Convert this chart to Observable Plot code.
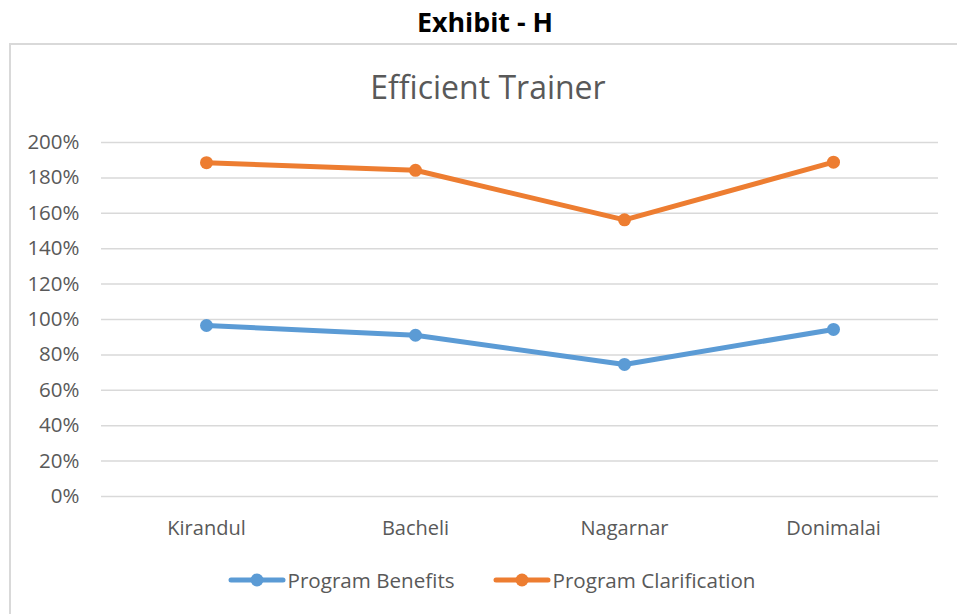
<!DOCTYPE html>
<html>
<head>
<meta charset="utf-8">
<script src="https://cdn.jsdelivr.net/npm/d3@7"></script>
<script src="https://cdn.jsdelivr.net/npm/@observablehq/plot@0.6"></script>
<style>
  body { margin: 0; background: #fff; font-family: "Open Sans", sans-serif; }
  #page { position: relative; width: 957px; height: 614px; overflow: hidden; }
  #exhibit { position: absolute; left: 0; width: 970px; top: 4px; text-align: center; font-weight: bold; font-size: 26.8px; color: #000; line-height: 36px; }
  #box { position: absolute; left: 9px; top: 43px; width: 960px; height: 600px; border-left: 2px solid #d9d9d9; border-top: 2px solid #d9d9d9; }
  #title { position: absolute; left: 0; width: 976px; top: 65px; text-align: center; font-size: 32px; color: #595959; line-height: 44px; }
  #chart { position: absolute; left: 0; top: 110px; }
  #legend { position: absolute; left: 0; width: 983px; top: 566px; display: flex; justify-content: center; gap: 38px; font-size: 20.6px; color: #595959; line-height: 28px; }
  .item { display: flex; align-items: center; gap: 2px; }
</style>
</head>
<body>
<div id="page">
  <div id="exhibit">Exhibit - H</div>
  <div id="box"></div>
  <div id="title">Efficient Trainer</div>
  <div id="chart"></div>
  <div id="legend"></div>
</div>
<script>
const categories = ["Kirandul", "Bacheli", "Nagarnar", "Donimalai"];
const seriesNames = ["Program Benefits", "Program Clarification"];
const benefits = [0.966, 0.911, 0.746, 0.944];
const clarification = [1.886, 1.843, 1.563, 1.889];
const yTicks = [0, 0.2, 0.4, 0.6, 0.8, 1.0, 1.2, 1.4, 1.6, 1.8, 2.0];
const colors = ["#5B9BD5", "#ED7D31"];

const data = [];
categories.forEach((c, i) => {
  data.push({ cat: c, series: seriesNames[0], value: benefits[i] });
  data.push({ cat: c, series: seriesNames[1], value: clarification[i] });
});

const plot = Plot.plot({
  width: 957,
  height: 440,
  marginTop: 32,
  marginBottom: 54,
  marginLeft: 101,
  marginRight: 19,
  style: { fontFamily: "'Open Sans', sans-serif", color: "#595959", background: "transparent" },
  x: { type: "point", domain: categories, padding: 0.5 },
  y: { domain: [0, 2] },
  color: { domain: seriesNames, range: colors },
  marks: [
    Plot.gridY(yTicks, { stroke: "#d9d9d9", strokeOpacity: 1, strokeWidth: 1.5 }),
    Plot.axisY(yTicks, { tickSize: 0, tickPadding: 22, tickFormat: d3.format(".0%"), fontSize: 20.5, fill: "#595959", label: null }),
    Plot.axisX({ tickSize: 0, tickPadding: 24, fontSize: 20, fill: "#595959", label: null }),
    Plot.line(data, { x: "cat", y: "value", z: "series", stroke: "series", strokeWidth: 5, strokeLinecap: "round", strokeLinejoin: "round" }),
    Plot.dot(data, { x: "cat", y: "value", fill: "series", r: 6.5 })
  ]
});
document.getElementById("chart").appendChild(plot);

const legend = document.getElementById("legend");
seriesNames.forEach((name, i) => {
  const item = document.createElement("div");
  item.className = "item";
  item.innerHTML = `<svg width="58" height="16"><line x1="3" y1="8" x2="55" y2="8" stroke="${colors[i]}" stroke-width="5" stroke-linecap="round"/><circle cx="29" cy="8" r="6.5" fill="${colors[i]}"/></svg><span>${name}</span>`;
  legend.appendChild(item);
});
</script>
</body>
</html>
